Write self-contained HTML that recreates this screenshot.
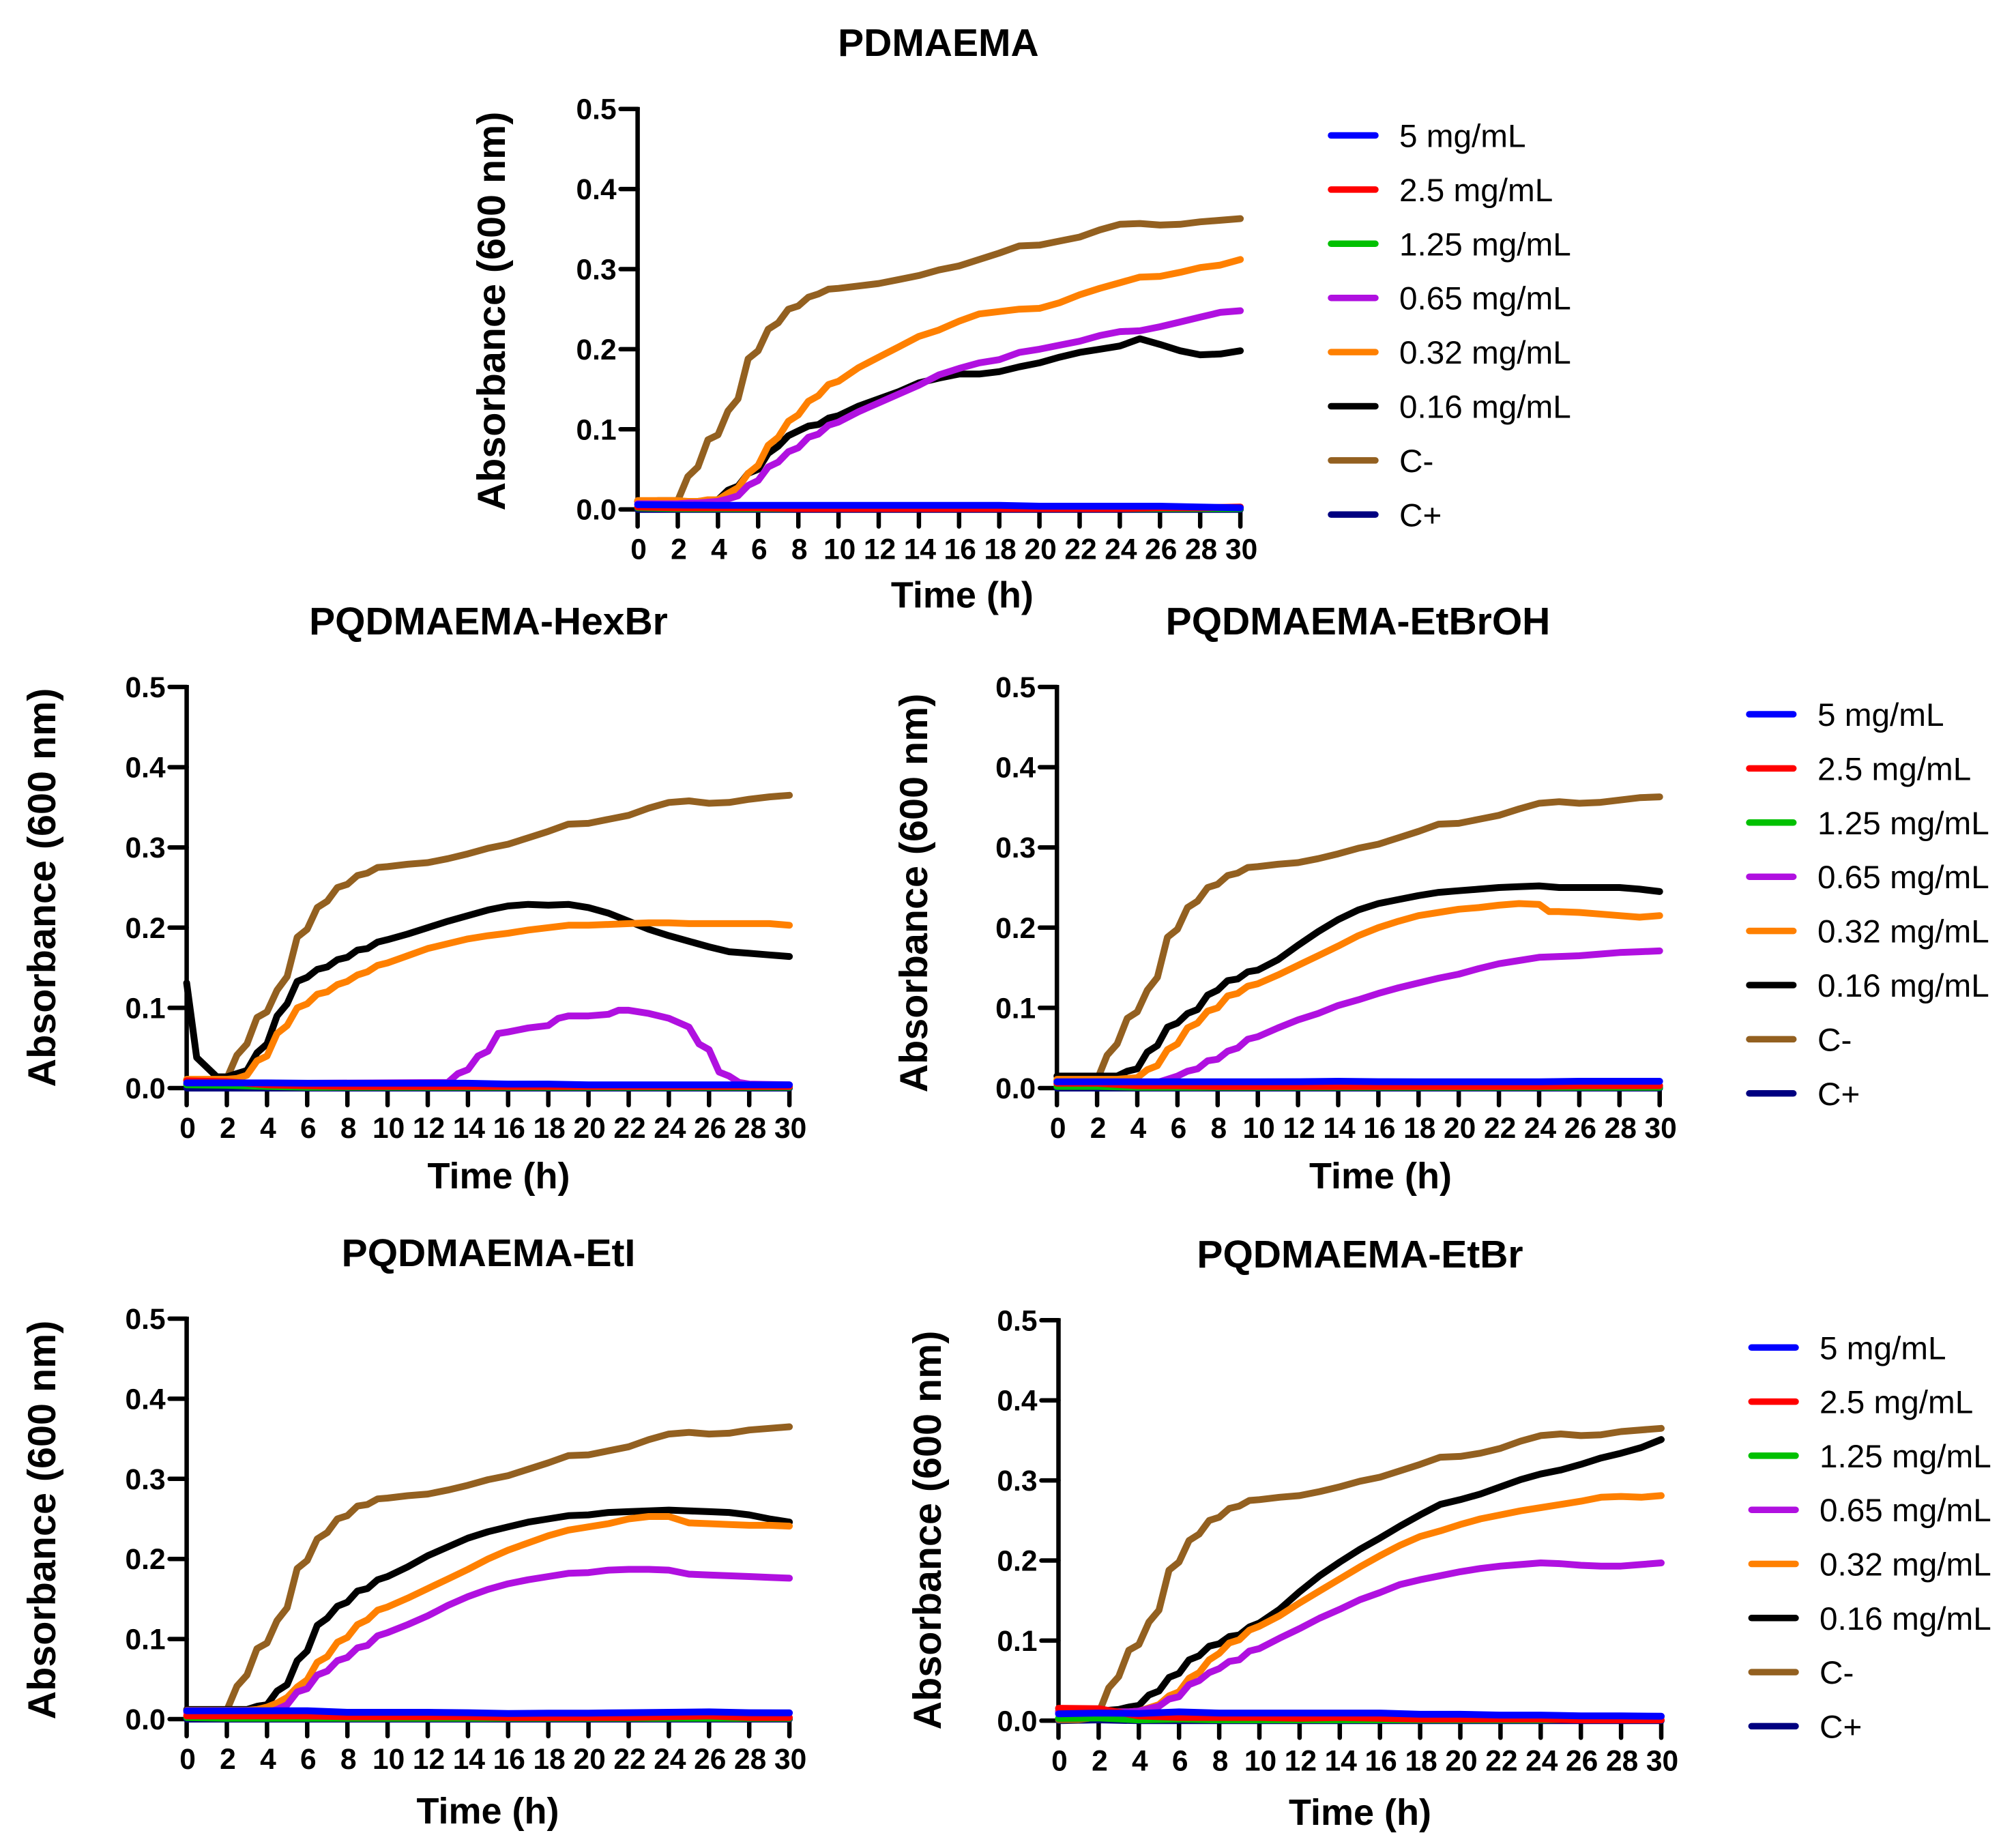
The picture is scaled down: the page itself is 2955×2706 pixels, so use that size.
<!DOCTYPE html>
<html lang="en">
<head>
<meta charset="utf-8">
<title>Absorbance growth curves</title>
<style>
html,body{margin:0;padding:0;background:#fff;}
svg{display:block;}
text{font-family:"Liberation Sans",sans-serif;fill:#000;}
</style>
</head>
<body>
<svg id="figure" xmlns="http://www.w3.org/2000/svg" width="2955" height="2706" viewBox="0 0 2955 2706"></svg>
<script>
// ---- shared axis data ----
const timesH = [0,.5,1,1.5,2,2.5,3,3.5,4,4.5,5,5.5,6,6.5,7,7.5,8,8.5,9,9.5,10,11,12,13,14,15,16,17,18,19,20,21,22,23,24,25,26,27,28,29,30];
const lowTimes = [0,2,4,6,8,10,12,14,16,18,20,22,24,26,28,30];
const xTickValues = [0,2,4,6,8,10,12,14,16,18,20,22,24,26,28,30];
const yTickValues = [0,0.1,0.2,0.3,0.4,0.5];
const yTickLabels = ['0.0','0.1','0.2','0.3','0.4','0.5'];
const legendLabels = ['5 mg/mL','2.5 mg/mL','1.25 mg/mL','0.65 mg/mL','0.32 mg/mL','0.16 mg/mL','C-','C+'];

// ---- PDMAEMA ----
const pdmaemaCNeg = [.01,.01,.011,.011,.011,.041,.053,.087,.093,.123,.138,.188,.198,.225,.233,.25,.254,.265,.269,.275,.276,.279,.282,.287,.292,.299,.304,.312,.32,.329,.33,.335,.34,.349,.356,.357,.355,.356,.359,.361,.363];
const pdmaema032 = [.011,.011,.011,.011,.011,.01,.01,.012,.012,.02,.027,.045,.055,.08,.09,.11,.118,.135,.142,.156,.16,.177,.19,.203,.216,.224,.235,.244,.247,.25,.251,.258,.268,.276,.283,.29,.291,.296,.302,.305,.312];
const pdmaema016 = [.01,.01,.01,.01,.01,.01,.01,.011,.012,.024,.029,.045,.05,.07,.079,.092,.098,.104,.106,.114,.117,.129,.138,.147,.158,.164,.169,.169,.172,.178,.183,.19,.196,.2,.204,.213,.206,.198,.193,.194,.198];
const pdmaema065 = [.007,.007,.007,.007,.007,.008,.008,.009,.01,.013,.017,.03,.036,.053,.059,.072,.077,.09,.094,.105,.109,.122,.133,.144,.155,.168,.176,.183,.187,.196,.2,.205,.21,.217,.222,.223,.228,.234,.24,.246,.248];
const pdmaema5 = [.006,.0055,.005,.005,.005,.005,.005,.005,.005,.005,.004,.004,.004,.004,.003,.002];
const pdmaema25 = [.003,.002,.002,.002,.001,.001,.001,.001,.001,.001,.001,.001,.001,.002,.002,.003];
const pdmaema125 = [.002,.001,.001,.001,.001,.001,.001,.001,.001,.001,.001,.001,.001,.001,.001,.001];
const pdmaemaCPos = [0,0,0,0,0,0,0,0,0,0,0,0,0,0,0,0];

// ---- PQDMAEMA-HexBr ----
const hexCNeg = [.01,.01,.01,.01,.012,.041,.055,.088,.095,.122,.139,.188,.198,.225,.233,.25,.254,.265,.268,.275,.276,.279,.281,.286,.292,.299,.304,.312,.32,.329,.33,.335,.34,.349,.356,.358,.355,.356,.36,.363,.365];
const hex016 = [.131,.038,.026,.014,.014,.018,.022,.044,.055,.09,.105,.133,.138,.148,.151,.16,.163,.172,.174,.182,.185,.192,.2,.208,.215,.222,.227,.229,.228,.229,.225,.218,.208,.198,.19,.183,.176,.17,.168,.166,.164];
const hex032 = [.011,.011,.011,.011,.011,.012,.016,.034,.04,.068,.078,.1,.105,.117,.12,.129,.133,.141,.145,.153,.156,.165,.174,.18,.186,.19,.193,.197,.2,.203,.203,.204,.205,.206,.206,.205,.205,.205,.205,.205,.203];
const hex065Times = [0,13,13.5,14,14.5,15,15.5,16,17,18,18.5,19,20,21,21.5,22,23,24,25,25.5,26,26.5,27,27.5,28,30];
const hex065 = [.005,.007,.018,.023,.04,.046,.068,.07,.075,.078,.087,.09,.09,.092,.097,.097,.093,.087,.076,.055,.048,.02,.015,.007,.005,.004];
const hex5 = [.0065,.0065,.0065,.006,.006,.006,.006,.006,.005,.005,.004,.004,.004,.004,.004,.004];
const hex25 = [.009,.008,.004,.003,.002,.002,.002,.002,.002,.002,.002,.002,.002,.002,.002,.002];
const hex125 = [.004,.0035,.002,.001,.001,.001,.001,.001,.001,.001,.001,.001,.001,.001,.001,.001];
const hexCPos = [0,0,0,0,0,0,0,0,0,0,0,0,0,0,0,0];

// ---- PQDMAEMA-EtBrOH ----
const ethCNeg = [.01,.01,.01,.01,.01,.041,.055,.087,.095,.122,.138,.188,.198,.225,.233,.25,.254,.265,.268,.275,.276,.279,.281,.286,.292,.299,.304,.312,.32,.329,.33,.335,.34,.348,.355,.357,.355,.356,.359,.362,.363];
const eth016 = [.015,.015,.015,.015,.015,.015,.015,.021,.024,.045,.053,.076,.081,.093,.098,.116,.122,.134,.136,.145,.147,.16,.178,.195,.21,.222,.23,.235,.24,.244,.246,.248,.25,.251,.252,.25,.25,.25,.25,.248,.245];
const eth032Times = [0,3,3.5,4,4.5,5,5.5,6,6.5,7,7.5,8,8.5,9,9.5,10,11,12,13,14,15,16,17,18,19,20,21,22,23,24,24.5,25,26,27,28,29,30];
const eth032 = [.011,.011,.012,.013,.023,.028,.048,.055,.075,.081,.096,.1,.115,.118,.127,.13,.141,.153,.165,.177,.19,.2,.208,.215,.219,.223,.225,.228,.23,.229,.22,.22,.219,.217,.215,.213,.215];
const eth065 = [.005,.006,.007,.007,.007,.007,.007,.007,.007,.007,.007,.011,.015,.021,.024,.034,.036,.046,.05,.061,.064,.075,.085,.093,.103,.11,.118,.125,.131,.137,.142,.149,.155,.159,.163,.164,.165,.167,.169,.17,.171];
const eth5 = [.0078,.0078,.0078,.0078,.0078,.0078,.008,.0085,.008,.0078,.0078,.0078,.0078,.0085,.0085,.0085];
const eth25 = [.006,.006,.003,.003,.002,.002,.002,.002,.002,.002,.002,.002,.002,.003,.003,.003];
const eth125 = [.002,.002,.001,.001,.001,.001,.001,.001,.001,.001,.001,.001,.001,.001,.001,.001];
const ethCPos = [0,0,0,0,0,0,0,0,0,0,0,0,0,0,0,0];

// ---- PQDMAEMA-EtI ----
const etiCNeg = [.01,.01,.01,.01,.011,.041,.055,.088,.095,.123,.139,.188,.198,.225,.233,.25,.254,.266,.268,.275,.276,.279,.281,.286,.292,.299,.304,.312,.32,.329,.33,.335,.34,.349,.356,.358,.356,.357,.361,.363,.365];
const eti016 = [.012,.012,.012,.012,.012,.012,.012,.016,.018,.035,.043,.073,.085,.117,.126,.141,.146,.16,.163,.174,.178,.19,.204,.215,.226,.234,.24,.246,.25,.254,.255,.258,.259,.26,.261,.26,.259,.258,.255,.25,.246];
const eti032 = [.011,.011,.011,.011,.011,.011,.011,.012,.015,.02,.027,.04,.049,.071,.078,.096,.102,.118,.124,.136,.14,.151,.163,.175,.187,.2,.211,.22,.229,.236,.24,.244,.25,.253,.253,.245,.244,.243,.242,.242,.241];
const eti065 = [.008,.008,.008,.008,.008,.008,.008,.008,.008,.012,.018,.034,.038,.055,.06,.073,.077,.089,.092,.104,.108,.118,.129,.142,.153,.162,.169,.174,.178,.182,.183,.186,.187,.187,.186,.181,.18,.179,.178,.177,.176];
const eti5 = [.0105,.0105,.0105,.0105,.0085,.0085,.0085,.008,.007,.0075,.0075,.008,.0085,.009,.008,.0078];
const eti25 = [.004,.004,.004,.004,.003,.003,.003,.003,.002,.002,.002,.002,.003,.004,.002,.002];
const eti125 = [.002,.001,.001,.001,.001,.001,.001,.001,.001,.001,.001,.001,.001,.001,.001,.001];
const etiCPos = [0,0,0,0,0,0,0,0,0,0,0,0,0,0,0,0];

// ---- PQDMAEMA-EtBr ----
const etbCNeg = [.001,.001,.001,.003,.009,.041,.055,.088,.095,.123,.138,.188,.198,.225,.233,.25,.254,.265,.268,.275,.276,.279,.281,.286,.292,.299,.304,.312,.32,.329,.33,.334,.34,.349,.356,.358,.356,.357,.361,.363,.365];
const etb016 = [.012,.012,.012,.012,.012,.013,.014,.017,.019,.032,.037,.054,.059,.076,.081,.093,.096,.105,.107,.117,.122,.139,.161,.181,.198,.214,.228,.243,.257,.27,.276,.283,.292,.301,.308,.313,.32,.328,.334,.341,.351];
const etb032 = [.011,.011,.011,.011,.011,.011,.011,.011,.012,.016,.02,.031,.036,.053,.06,.076,.084,.097,.101,.113,.118,.131,.147,.162,.177,.192,.206,.219,.23,.237,.245,.252,.257,.262,.266,.27,.274,.279,.28,.279,.281];
const etb065 = [.011,.011,.011,.011,.011,.011,.011,.011,.012,.015,.018,.027,.03,.045,.05,.06,.065,.074,.076,.087,.09,.103,.115,.128,.139,.151,.16,.17,.176,.181,.186,.19,.193,.195,.197,.196,.194,.193,.193,.195,.197];
const etb5 = [.0085,.0095,.009,.011,.0095,.0095,.0095,.0095,.0095,.008,.008,.007,.007,.006,.006,.0055];
const etb25 = [.0155,.015,.006,.004,.004,.004,.003,.004,.003,.002,.002,.002,.002,.001,.001,.001];
const etb125 = [.003,.0035,.001,.002,.001,.001,.001,.001,.001,.001,.001,.001,.001,.002,.003,.005];
const etbCPos = [0,.001,0,0,0,0,0,0,0,0,0,0,0,0,0,0];

// ---- series styling, drawn back to front ----
const SERIES_COLORS = {cpos:'#000080',cneg:'#936020',c016:'#000000',c032:'#ff8000',c065:'#b010e0',c125:'#00c000',c25:'#ff0000',c5:'#0000ff'};
const LEGEND_COLORS = ['#0000ff','#ff0000','#00c000','#b010e0','#ff8000','#000000','#936020','#000080'];

function series(name, color, times, values){ return {name:name, color:color, times:times, values:values}; }

const panels = [
 {id:'pdmaema', title:'PDMAEMA', x0:934.6, y0:746.7, h:587,
  titleX:1375.4, titleY:82, xLabelX:1410.4, xLabelY:890.5, yLabelX:740, yLabelY:456, legend:{x1:1947,x2:2020,y:198.5,step:79.4,tx:2051},
  data:[series('c-plus',SERIES_COLORS.cpos,lowTimes,pdmaemaCPos),series('c-minus',SERIES_COLORS.cneg,timesH,pdmaemaCNeg),series('0-16',SERIES_COLORS.c016,timesH,pdmaema016),series('0-32',SERIES_COLORS.c032,timesH,pdmaema032),series('0-65',SERIES_COLORS.c065,timesH,pdmaema065),series('1-25',SERIES_COLORS.c125,lowTimes,pdmaema125),series('2-5',SERIES_COLORS.c25,lowTimes,pdmaema25),series('5',SERIES_COLORS.c5,lowTimes,pdmaema5)]},
 {id:'hexbr', title:'PQDMAEMA-HexBr', x0:273.6, y0:1595, h:588,
  titleX:716, titleY:930, xLabelX:731, xLabelY:1742, yLabelX:81, yLabelY:1301, legend:null,
  data:[series('c-plus',SERIES_COLORS.cpos,lowTimes,hexCPos),series('c-minus',SERIES_COLORS.cneg,timesH,hexCNeg),series('0-16',SERIES_COLORS.c016,timesH,hex016),series('0-32',SERIES_COLORS.c032,timesH,hex032),series('0-65',SERIES_COLORS.c065,hex065Times,hex065),series('1-25',SERIES_COLORS.c125,lowTimes,hex125),series('2-5',SERIES_COLORS.c25,lowTimes,hex25),series('5',SERIES_COLORS.c5,lowTimes,hex5)]},
 {id:'etbroh', title:'PQDMAEMA-EtBrOH', x0:1549.2, y0:1595, h:588,
  titleX:1990.5, titleY:930, xLabelX:2023.5, xLabelY:1742, yLabelX:1359, yLabelY:1309, legend:{x1:2560,x2:2632.7,y:1047,step:79.4,tx:2664},
  data:[series('c-plus',SERIES_COLORS.cpos,lowTimes,ethCPos),series('c-minus',SERIES_COLORS.cneg,timesH,ethCNeg),series('0-16',SERIES_COLORS.c016,timesH,eth016),series('0-32',SERIES_COLORS.c032,eth032Times,eth032),series('0-65',SERIES_COLORS.c065,timesH,eth065),series('1-25',SERIES_COLORS.c125,lowTimes,eth125),series('2-5',SERIES_COLORS.c25,lowTimes,eth25),series('5',SERIES_COLORS.c5,lowTimes,eth5)]},
 {id:'eti', title:'PQDMAEMA-EtI', x0:273.6, y0:2520, h:587,
  titleX:716, titleY:1856, xLabelX:715, xLabelY:2673, yLabelX:81, yLabelY:2228, legend:null,
  data:[series('c-plus',SERIES_COLORS.cpos,lowTimes,etiCPos),series('c-minus',SERIES_COLORS.cneg,timesH,etiCNeg),series('0-16',SERIES_COLORS.c016,timesH,eti016),series('0-32',SERIES_COLORS.c032,timesH,eti032),series('0-65',SERIES_COLORS.c065,timesH,eti065),series('1-25',SERIES_COLORS.c125,lowTimes,eti125),series('2-5',SERIES_COLORS.c25,lowTimes,eti25),series('5',SERIES_COLORS.c5,lowTimes,eti5)]},
 {id:'etbr', title:'PQDMAEMA-EtBr', x0:1551.5, y0:2522.3, h:587,
  titleX:1993.5, titleY:1858, xLabelX:1993.5, xLabelY:2675, yLabelX:1379, yLabelY:2243, legend:{x1:2563.3,x2:2636,y:1975.3,step:79.3,tx:2667},
  data:[series('c-plus',SERIES_COLORS.cpos,lowTimes,etbCPos),series('c-minus',SERIES_COLORS.cneg,timesH,etbCNeg),series('0-16',SERIES_COLORS.c016,timesH,etb016),series('0-32',SERIES_COLORS.c032,timesH,etb032),series('0-65',SERIES_COLORS.c065,timesH,etb065),series('1-25',SERIES_COLORS.c125,lowTimes,etb125),series('2-5',SERIES_COLORS.c25,lowTimes,etb25),series('5',SERIES_COLORS.c5,lowTimes,etb5)]}
];

const PLOT_W = 883.5, X_MAX = 30, Y_MAX = 0.5;
const NS = 'http://www.w3.org/2000/svg';
const svg = document.getElementById('figure');

function make(tag, parent, attrs){
  const el = document.createElementNS(NS, tag);
  for (const k in attrs) el.setAttribute(k, attrs[k]);
  parent.appendChild(el);
  return el;
}

panels.forEach(function(p){
  const xScale = function(t){ return p.x0 + (t / X_MAX) * PLOT_W; };
  const yScale = function(v){ return p.y0 - (v / Y_MAX) * p.h; };

  const g = make('g', svg, {});
  
  

  const title = make('text', g, {x:p.titleX, y:p.titleY, 'text-anchor':'middle', 'font-size':57, 'font-weight':'bold'});
  title.textContent = p.title;
  
  

  const yAxis = make('line', g, {x1:p.x0, x2:p.x0, y1:yScale(Y_MAX)-3, y2:p.y0+3, stroke:'#000', 'stroke-width':6.5});
  
  

  const xAxis = make('line', g, {x1:p.x0-3, x2:xScale(X_MAX)+3, y1:p.y0, y2:p.y0, stroke:'#000', 'stroke-width':6.5});
  
  

  xTickValues.forEach(function(t){
    const tick = make('line', g, {x1:xScale(t), x2:xScale(t), y1:p.y0, y2:p.y0+25, stroke:'#000', 'stroke-width':6.5, 'stroke-linecap':'round'});
    
    
    const lab = make('text', g, {x:xScale(t)+1.5, y:p.y0+73, 'text-anchor':'middle', 'font-size':42.5, 'font-weight':'bold'});
    lab.textContent = String(t);
    
    
  });

  yTickValues.forEach(function(v, i){
    const tick = make('line', g, {x1:p.x0-25, x2:p.x0, y1:yScale(v), y2:yScale(v), stroke:'#000', 'stroke-width':6.5, 'stroke-linecap':'round'});
    
    
    const lab = make('text', g, {x:p.x0-31, y:yScale(v)+15, 'text-anchor':'end', 'font-size':42.5, 'font-weight':'bold'});
    lab.textContent = yTickLabels[i];
    
    
  });

  const xl = make('text', g, {x:p.xLabelX, y:p.xLabelY, 'text-anchor':'middle', 'font-size':54, 'font-weight':'bold'});
  xl.textContent = 'Time (h)';
  
  

  const yl = make('text', g, {x:0, y:0, 'text-anchor':'middle', 'font-size':57.5, 'font-weight':'bold', transform:'translate(' + p.yLabelX + ' ' + p.yLabelY + ') rotate(-90)'});
  yl.textContent = 'Absorbance (600 nm)';
  
  

  p.data.forEach(function(s){
    const pts = s.values.map(function(v, i){ return xScale(s.times[i]).toFixed(1) + ',' + yScale(v).toFixed(1); }).join(' ');
    const line = make('polyline', g, {points:pts, fill:'none', stroke:s.color, 'stroke-width':10, 'stroke-linejoin':'round', 'stroke-linecap':'round'});
    
    
  });

  if (p.legend){
    const L = p.legend;
    legendLabels.forEach(function(label, i){
      const y = L.y + i * L.step;
      const swatch = make('line', g, {x1:L.x1+4, x2:L.x2-4, y1:y, y2:y, stroke:LEGEND_COLORS[i], 'stroke-width':9.5, 'stroke-linecap':'round'});
      
      
      const t = make('text', g, {x:L.tx, y:y+17, 'font-size':47.7});
      t.textContent = label;
      
      
    });
  }
});
</script>
</body>
</html>
